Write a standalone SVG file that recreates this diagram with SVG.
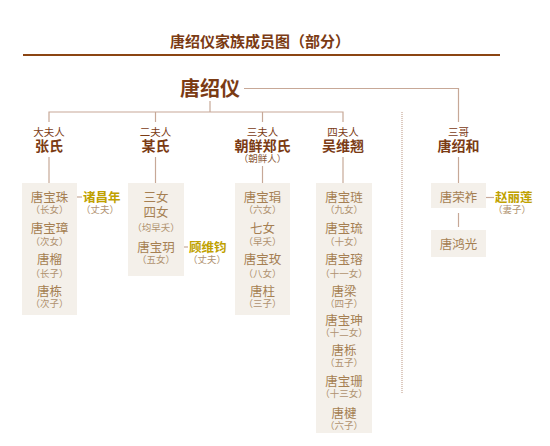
<svg xmlns="http://www.w3.org/2000/svg" width="550" height="446" viewBox="0 0 550 446">
<style>
text{font-family:"Noto Sans CJK SC","Noto Sans",sans-serif;text-anchor:middle}
.title{font-size:15px;font-weight:bold;fill:#7b3b14}
.root{font-size:20px;font-weight:bold;fill:#7b3b14}
.role{font-size:10.5px;fill:#7b3b14}
.head{font-size:14px;font-weight:bold;fill:#7b3b14}
.note{font-size:9.5px;fill:#8a5a3a}
.box{fill:#f4f0ea}
.nm{font-size:12.5px;fill:#a57f52}
.sub{font-size:9.5px;fill:#b0926f}
.sp{font-size:12.5px;font-weight:bold;fill:#c0a100;text-anchor:start}
.ln{stroke:#c7a897;stroke-width:1.2;fill:none}
</style>
<rect width="550" height="446" fill="#ffffff"/>
<text class="title" x="260" y="47">唐绍仪家族成员图（部分）</text>
<line x1="23" y1="55" x2="500" y2="55" stroke="#8b4513" stroke-width="2"/>

<g id="connectors">
<path class="ln" d="M244 88.5H458.5V122"/>
<path class="ln" d="M210 101V112"/>
<path class="ln" d="M49 122V112H343V122"/>
<path class="ln" d="M155.5 112V122"/>
<path class="ln" d="M262.5 112V122"/>
<path class="ln" d="M49 157V183"/>
<path class="ln" d="M155.5 157V183"/>
<path class="ln" d="M262.5 166V183"/>
<path class="ln" d="M343 157V183"/>
<path class="ln" d="M458.5 157V183"/>
<path class="ln" d="M458.5 213V227"/>
<path class="ln" d="M69 197H82"/>
<path class="ln" d="M174 247H188"/>
<path class="ln" d="M480 197.5H494"/>
<line x1="402" y1="112" x2="402" y2="393" stroke="#c7a897" stroke-width="1.2" stroke-dasharray="1,1"/>
</g>

<g id="root"><text class="root" x="210" y="96">唐绍仪</text></g>

<g id="wife1">
<text class="role" x="49" y="135.5">大夫人</text>
<text class="head" x="49" y="150.5">张氏</text>
</g>
<g id="wife2">
<text class="role" x="155.5" y="135.5">二夫人</text>
<text class="head" x="155.5" y="150.5">某氏</text>
</g>
<g id="wife3">
<text class="role" x="262.5" y="135.5">三夫人</text>
<text class="head" x="262.5" y="150.5">朝鲜郑氏</text>
<text class="note" x="262.5" y="162">（朝鲜人）</text>
</g>
<g id="wife4">
<text class="role" x="343" y="135.5">四夫人</text>
<text class="head" x="343" y="150.5">吴维翘</text>
</g>
<g id="brother">
<text class="role" x="458.5" y="135.5">三哥</text>
<text class="head" x="458.5" y="150.5">唐绍和</text>
</g>

<g id="children1">
<rect class="box" x="22" y="183" width="55" height="132"/>
<text class="nm" x="49.5" y="201.5">唐宝珠</text><text class="sub" x="49.5" y="213">（长女）</text>
<text class="nm" x="49.5" y="232.5">唐宝璋</text><text class="sub" x="49.5" y="245">（次女）</text>
<text class="nm" x="49.5" y="263.5">唐榴</text><text class="sub" x="49.5" y="277">（长子）</text>
<text class="nm" x="49.5" y="295.5">唐栋</text><text class="sub" x="49.5" y="307">（次子）</text>
</g>
<g id="spouse1">
<text class="sp" x="83" y="201.5">诸昌年</text>
<text class="sub" x="100" y="213">（丈夫）</text>
</g>

<g id="children2">
<rect class="box" x="128" y="183" width="56" height="93"/>
<text class="nm" x="156" y="201.5">三女</text>
<text class="nm" x="156" y="216.5">四女</text>
<text class="sub" x="156" y="231">（均早夭）</text>
<text class="nm" x="156" y="251.5">唐宝玥</text><text class="sub" x="156" y="263">（五女）</text>
</g>
<g id="spouse2">
<text class="sp" x="189" y="251.5">顾维钧</text>
<text class="sub" x="207" y="263">（丈夫）</text>
</g>

<g id="children3">
<rect class="box" x="235" y="183" width="55" height="132"/>
<text class="nm" x="262.5" y="201.5">唐宝琄</text><text class="sub" x="262.5" y="213">（六女）</text>
<text class="nm" x="262.5" y="232.5">七女</text><text class="sub" x="262.5" y="245">（早夭）</text>
<text class="nm" x="262.5" y="263.5">唐宝玫</text><text class="sub" x="262.5" y="277">（八女）</text>
<text class="nm" x="262.5" y="295.5">唐柱</text><text class="sub" x="262.5" y="307">（三子）</text>
</g>

<g id="children4">
<rect class="box" x="316" y="183" width="56" height="250"/>
<text class="nm" x="344" y="201.5">唐宝琏</text><text class="sub" x="344" y="213">（九女）</text>
<text class="nm" x="344" y="232.5">唐宝琉</text><text class="sub" x="344" y="245">（十女）</text>
<text class="nm" x="344" y="263.5">唐宝瑢</text><text class="sub" x="344" y="277">（十一女）</text>
<text class="nm" x="344" y="295.5">唐梁</text><text class="sub" x="344" y="307">（四子）</text>
<text class="nm" x="344" y="324.5">唐宝珅</text><text class="sub" x="344" y="336">（十二女）</text>
<text class="nm" x="344" y="354.5">唐栎</text><text class="sub" x="344" y="366">（五子）</text>
<text class="nm" x="344" y="386">唐宝珊</text><text class="sub" x="344" y="397">（十三女）</text>
<text class="nm" x="344" y="417.5">唐楗</text><text class="sub" x="344" y="429">（六子）</text>
</g>

<g id="nephew1">
<rect class="box" x="431" y="183" width="55" height="25"/>
<text class="nm" x="458.5" y="202">唐荣祚</text>
</g>
<g id="spouse5">
<text class="sp" x="495" y="202">赵丽莲</text>
<text class="sub" x="512" y="213">（妻子）</text>
</g>
<g id="nephew2">
<rect class="box" x="431" y="230" width="55" height="27"/>
<text class="nm" x="458.5" y="248.5">唐鸿光</text>
</g>
</svg>
